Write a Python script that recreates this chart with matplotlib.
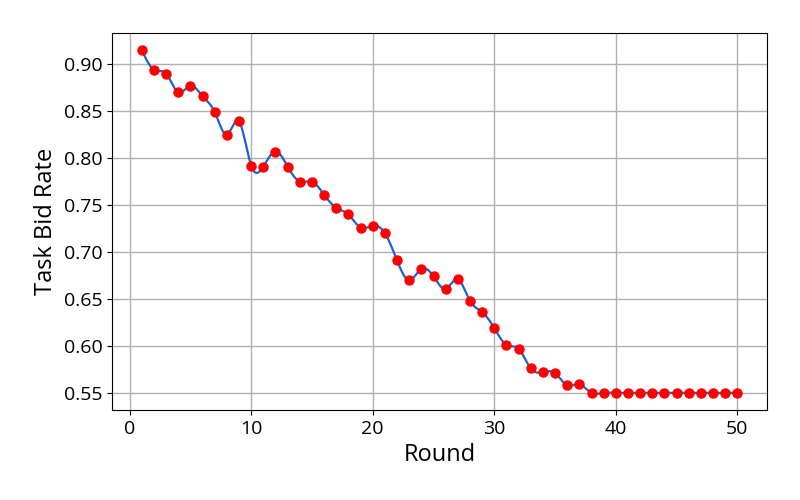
import numpy as np
import matplotlib
matplotlib.use("Agg")
import matplotlib.pyplot as plt

rounds = list(range(1, 51))
bid_rate = [0.915, 0.894, 0.890, 0.870, 0.877, 0.866, 0.849, 0.825, 0.839, 0.792,
            0.791, 0.807, 0.791, 0.775, 0.775, 0.761, 0.747, 0.740, 0.726, 0.728,
            0.720, 0.691, 0.670, 0.682, 0.674, 0.661, 0.671, 0.648, 0.636, 0.619,
            0.601, 0.597, 0.576, 0.572, 0.571, 0.558, 0.559, 0.550, 0.550, 0.550,
            0.550, 0.550, 0.550, 0.550, 0.550, 0.550, 0.550, 0.550, 0.550, 0.550]

def natural_cubic_spline(x, y, xs):
    x = np.asarray(x, float); y = np.asarray(y, float)
    n = len(x)
    h = np.diff(x)
    A = np.zeros((n, n)); b = np.zeros(n)
    A[0, 0] = 1; A[-1, -1] = 1
    for i in range(1, n - 1):
        A[i, i - 1] = h[i - 1]
        A[i, i] = 2 * (h[i - 1] + h[i])
        A[i, i + 1] = h[i]
        b[i] = 3 * ((y[i + 1] - y[i]) / h[i] - (y[i] - y[i - 1]) / h[i - 1])
    c = np.linalg.solve(A, b)
    bb = (y[1:] - y[:-1]) / h - h * (2 * c[:-1] + c[1:]) / 3
    d = (c[1:] - c[:-1]) / (3 * h)
    idx = np.clip(np.searchsorted(x, xs) - 1, 0, n - 2)
    t = xs - x[idx]
    return y[idx] + bb[idx] * t + c[idx] * t ** 2 + d[idx] * t ** 3

plt.rcParams['font.family'] = ['Open Sans', 'DejaVu Sans']

fig = plt.figure(figsize=(8, 5), dpi=100)
ax = fig.add_axes([0.14, 0.18, 0.819, 0.754])

xs = np.linspace(rounds[0], rounds[-1], 1000)
ys = natural_cubic_spline(rounds, bid_rate, xs)
ax.plot(xs, ys, color='#1a62d6', linewidth=1.6, zorder=2)
ax.plot(rounds, bid_rate, 'o', color='red', markersize=6.5, zorder=3)

ax.set_xlim(-1.45, 52.45)
ax.set_ylim(0.53175, 0.93325)
ax.set_xticks([0, 10, 20, 30, 40, 50])
ax.set_yticks([0.55, 0.60, 0.65, 0.70, 0.75, 0.80, 0.85, 0.90])
ax.set_yticklabels([f"{v:.2f}" for v in [0.55, 0.60, 0.65, 0.70, 0.75, 0.80, 0.85, 0.90]])
ax.grid(True, color='#b0b0b0', linewidth=1.0)
ax.set_axisbelow(True)
ax.tick_params(labelsize=14)
ax.set_xlabel('Round', fontsize=17)
ax.set_ylabel('Task Bid Rate', fontsize=17)

fig.savefig('out.png', dpi=100)
